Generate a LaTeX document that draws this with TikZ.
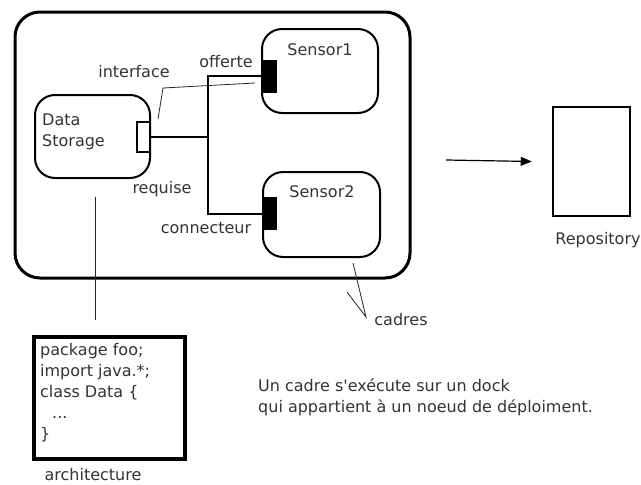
\documentclass[tikz,border=0pt]{standalone}
\usepackage{fontspec}
\setmainfont{DejaVu Sans}
\usetikzlibrary{arrows.meta}
\begin{document}
\begin{tikzpicture}[x=1pt,y=-1pt,
  every node/.style={font=\fontsize{16}{21}\selectfont, text=black!80},
  frame/.style={draw, line width=3pt, rounded corners=25pt, minimum width=395pt, minimum height=266pt, inner sep=0},
  comp/.style={draw, line width=2pt, rounded corners=20pt, inner sep=0},
  portin/.style={draw, fill=white, line width=2pt, minimum width=13pt, minimum height=30pt, inner sep=0},
  portout/.style={draw, fill=black, line width=1pt, minimum width=13pt, minimum height=32pt, inner sep=0},
  wire/.style={line width=2pt},
  pointer/.style={line width=0.8pt, black!85},
  lbl/.style={inner sep=0}
]
\useasboundingbox (0,0) rectangle (641,485);

% outer frame with its components
\node[frame] (cadre) at (212.5,145) {};
\node[comp, minimum width=115pt, minimum height=83pt] (ds) at (92.5,136.5) {};
\node[comp, minimum width=116pt, minimum height=84pt] (s1) at (320,71) {};
\node[comp, minimum width=117pt, minimum height=85pt] (s2) at (321.5,214.5) {};

% ports
\node[portin] (dsport) at (143.5,137) {};
\node[portout] (s1port) at (269.5,76) {};
\node[portout] (s2port) at (270,213.5) {};

% component names
\node[lbl, anchor=north west, align=left] (dsname) at (42,114) {Data\\Storage};
\node[lbl] (s1name) at (320,50) {Sensor1};
\node[lbl] (s2name) at (322,192) {Sensor2};

% connector tree
\coordinate (junction) at (208,137);
\draw[wire] (dsport.east) -- (junction);
\draw[wire] (s1port.west) -| (junction) |- (s2port.west);

% labels of the ports and connector
\node[lbl] (interface) at (134,72) {interface};
\node[lbl] (offerte) at (226,62) {offerte};
\node[lbl] (requise) at (162,189) {requise};
\node[lbl] (connecteur) at (206,228) {connecteur};

% pointer from "interface"
\coordinate (ifA) at (158,119);
\coordinate (ifB) at (163,88);
\coordinate (ifC) at (255,83);
\draw[pointer] (ifA) -- (ifB) -- (ifC);

% code box and its link to Data Storage
\node[draw, line width=4pt, minimum width=151pt, minimum height=122pt, inner sep=0] (code) at (109.5,398) {};
\node[lbl, anchor=north west, align=left] (codetext) at (40,343)
  {package foo;\\import java.*;\\class Data \{\\\hspace*{12pt}...\\\}};
\node[lbl] (archi) at (93,475) {architecture};
\coordinate (dsLinkTop) at (95,197);
\coordinate (dsLinkBot) at (95,320);
\draw[pointer] (dsLinkTop) -- (dsLinkBot);

% "cadres" pointers
\node[lbl] (cadres) at (401,320) {cadres};
\coordinate (cadApex) at (366,317);
\coordinate (cadA) at (353,263);
\coordinate (cadB) at (347,292);
\draw[pointer] (cadA) -- (cadApex) -- (cadB);

% repository
\coordinate (arrStart) at (446,160);
\node[draw, line width=2.5pt, minimum width=77pt, minimum height=109pt, inner sep=0] (repo) at (591.5,161.5) {};
\node[lbl] (repolbl) at (598,240) {Repository};
\draw[line width=1.2pt, -{Triangle[length=11pt,width=9pt]}] (arrStart) -- ([xshift=-20pt]repo.west);

% note
\node[lbl, anchor=north west, align=left] (note) at (258,378)
  {Un cadre s\textquotesingle exécute sur un dock\\qui appartient à un noeud de déploiment.};
\end{tikzpicture}
\end{document}
